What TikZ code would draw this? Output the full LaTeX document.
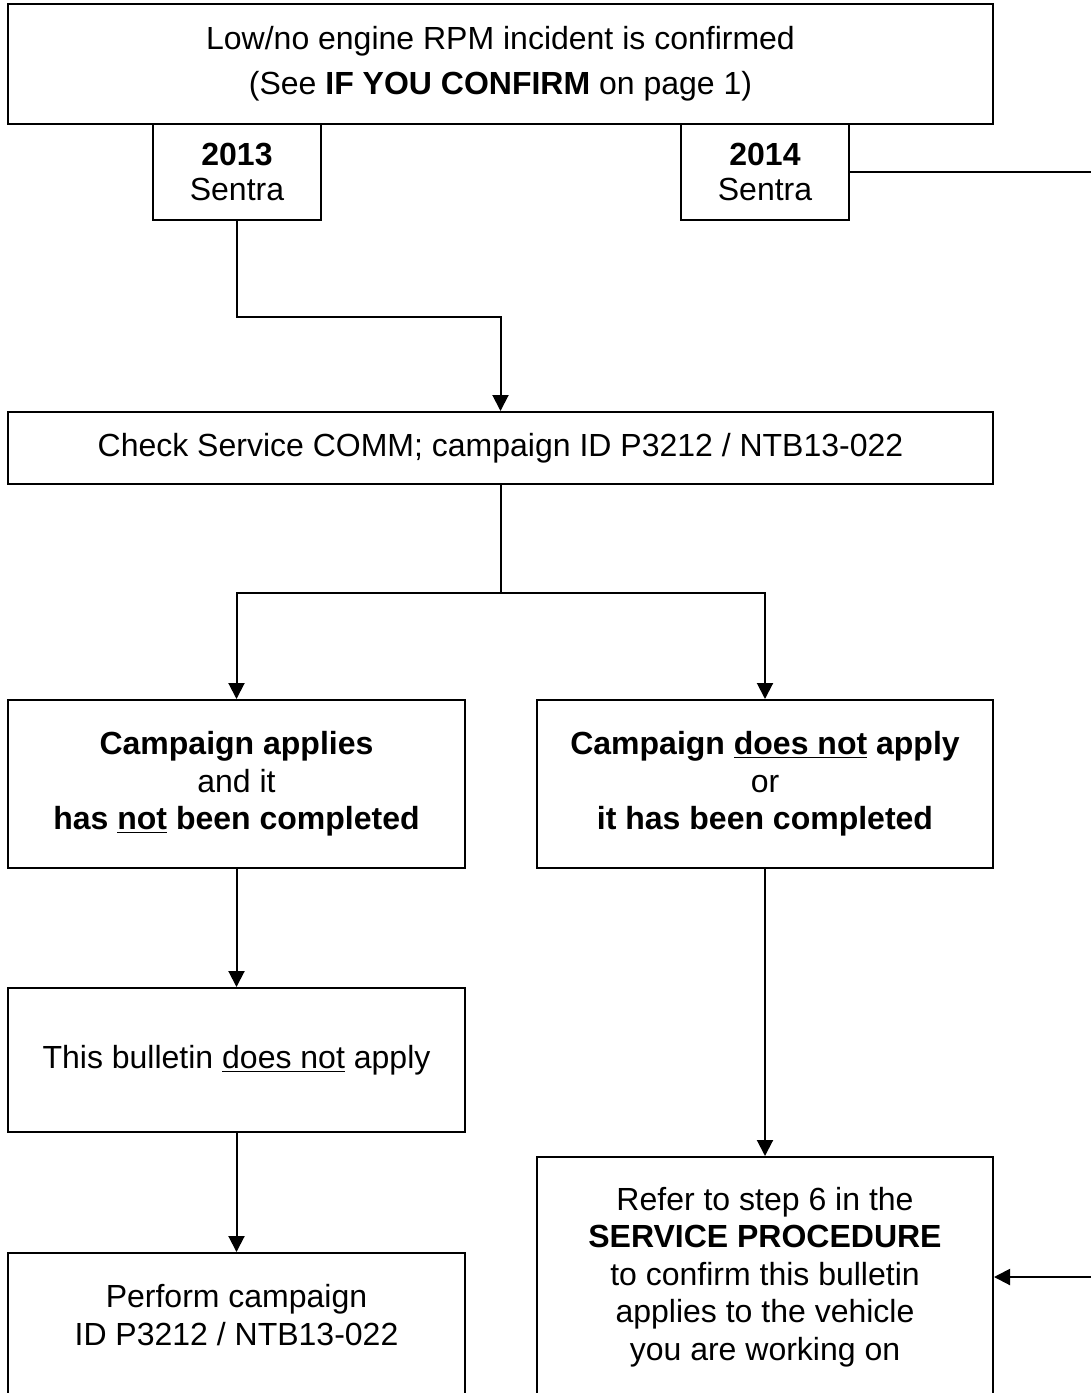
\documentclass[tikz,border=0pt]{standalone}
\usepackage{fontspec}
\setmainfont{Liberation Sans}
\usepackage{tikz}
\usetikzlibrary{arrows.meta}

\begin{document}
\begin{tikzpicture}[
  x=0.5pt, y=-0.5pt,
  font=\fontsize{16}{18.75}\selectfont,
  flowbox/.style={draw, line width=1pt, align=center, inner sep=0pt},
  flowline/.style={line width=1pt, -{Triangle[length=8pt,width=8pt]}},
]
\useasboundingbox (0,0) rectangle (1091,1393);
\clip (0,0) rectangle (1091,1393);
\node[flowbox, minimum width=492.5pt, minimum height=60pt] (confirm) at (500.5,64)
  {Low/no engine RPM incident is confirmed\\[3.75pt](See \textbf{IF YOU CONFIRM} on page 1)};
\node[flowbox, minimum width=84pt, minimum height=48pt] (y2013) at (237,172)
  {\textbf{2013}\\[-1.25pt]Sentra};
\node[flowbox, minimum width=84pt, minimum height=48pt] (y2014) at (765,172)
  {\textbf{2014}\\[-1.25pt]Sentra};
\node[flowbox, minimum width=492.5pt, minimum height=36pt] (check) at (500.5,448)
  {Check Service COMM; campaign ID P3212 / NTB13-022};
\node[flowbox, minimum width=228.5pt, minimum height=84pt] (applies) at (236.5,784)
  {\textbf{Campaign applies}\\and it\\\textbf{has \underline{not} been completed}};
\node[flowbox, minimum width=228pt, minimum height=84pt] (notapply) at (765,784)
  {\textbf{Campaign \underline{does not} apply}\\or\\\textbf{it has been completed}};
\node[flowbox, minimum width=228.5pt, minimum height=72pt] (bulletin) at (236.5,1060)
  {This bulletin \underline{does not} apply};
\node[flowbox, minimum width=228.5pt, minimum height=100pt, anchor=north] (perform) at (236.5,1252) {};
\node[align=center, inner sep=0pt] (performtext) at (236.5,1315)
  {Perform campaign\\ID P3212 / NTB13-022};
\node[flowbox, minimum width=228pt, minimum height=120pt, anchor=north] (refer) at (765,1156)
  {Refer to step 6 in the\\\textbf{SERVICE PROCEDURE}\\to confirm this bulletin\\applies to the vehicle\\you are working on};

\draw[flowline] (y2013.south) -- ++(0,96) -| (check.north);
\draw[flowline] (check.south) -- ++(0,108) coordinate (split) -| (applies.north);
\draw[flowline] (split) -| (notapply.north);
\draw[flowline] (applies.south) -- (bulletin.north);
\draw[flowline] (bulletin.south) -- (perform.north);
\draw[flowline] (notapply.south) -- (refer.north);
\draw[flowline] (y2014.east) -- ++(250,0) coordinate (bend) |- (refer.east);
\end{tikzpicture}
\end{document}
